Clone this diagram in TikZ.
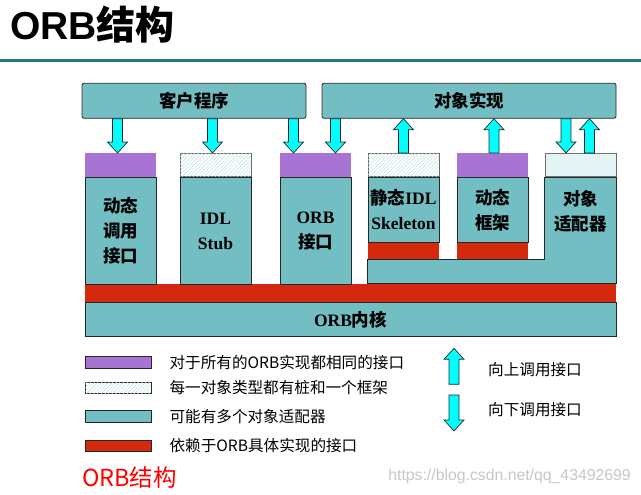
\documentclass[tikz,border=0pt]{standalone}
\usepackage{fontspec}
\setmainfont{Liberation Serif}
\newfontfamily\cjk{Noto Sans CJK SC}
\newfontfamily\arial{Liberation Sans}
\usetikzlibrary{calc}
\usetikzlibrary{patterns.meta}
\definecolor{orbteal}{HTML}{72BEC3}
\definecolor{orbpurple}{HTML}{A874D4}
\definecolor{orbred}{HTML}{D4290C}
\definecolor{orbrule}{HTML}{1E7A87}
\definecolor{orbedge}{HTML}{262626}
\definecolor{orbcyan}{HTML}{00FFFF}
\newcommand{\zh}[1]{{\cjk #1}}

\tikzset{
	box/.style={shape=rectangle,draw=orbedge,line width=0.8pt,fill=orbteal,inner sep=0pt,align=center,
		font=\bfseries\fontsize{17.5}{25}\selectfont},
	boxtext/.style={inner sep=0pt,align=center,font=\bfseries\fontsize{17.5}{25}\selectfont},
	purpletop/.style={shape=rectangle,fill=orbpurple,inner sep=0pt},
	hatchtop/.style={shape=rectangle,draw=orbedge!70,line width=0.6pt,inner sep=0pt,fill=white,
		postaction={pattern={Lines[angle=45,distance=2.6pt,line width=0.5pt]},pattern color=orbteal!45}},
	dottop/.style={shape=rectangle,draw=orbedge!70,line width=0.6pt,inner sep=0pt,fill=orbteal!16,
		postaction={pattern={Dots[distance=2pt,radius=0.35pt]},pattern color=orbteal!45}},
	redbar/.style={shape=rectangle,fill=orbred,inner sep=0pt},
	legend/.style={anchor=west,inner sep=0pt,font=\cjk\fontsize{15.6}{18}\selectfont},
	blockarrow/.style={draw=orbedge,line width=0.7pt,fill=orbcyan,
		to path={let \p1=(\tikztostart),\p2=(\tikztotarget),
			\p3=($(\tikztotarget)!11pt!(\tikztostart)$) in
			(\x1-5pt,\y1) -- (\x1-5pt,\y3) -- (\x1-10pt,\y3) -- (\x2,\y2)
			-- (\x1+10pt,\y3) -- (\x1+5pt,\y3) -- (\x1+5pt,\y1) -- cycle}}
}

\begin{document}
\begin{tikzpicture}[x=1pt,y=-1pt]
	\fill[white] (0,0) rectangle (641,495);
	\useasboundingbox (0,0) rectangle (641,495);

	\draw (10,40) node (title) [anchor=base west,inner sep=0pt,font=\bfseries\fontsize{39}{41}\selectfont] {{\arial ORB}\zh{结构}};
	\draw[orbrule,line width=2.7pt] (0,60.7) -- (641,60.7);

	\draw (194,100.8) node (client) [box,rounded corners=2pt,minimum width=224pt,minimum height=35pt] {\zh{客户程序}};
	\draw (469,100.8) node (impl) [box,rounded corners=2pt,minimum width=294pt,minimum height=35pt] {\zh{对象实现}};

	\draw (350.5,293) node (glue) [redbar,minimum width=531pt,minimum height=18pt] {};
	\draw (glue.south) node (core) [box,anchor=north,minimum width=531pt,minimum height=34pt] {ORB\zh{内核}};

	\draw (120.5,165) node (dii-top) [purpletop,minimum width=71pt,minimum height=23.5pt] {};
	\draw (215.5,165) node (stub-top) [hatchtop,minimum width=71pt,minimum height=23.5pt] {};
	\draw (315.5,165) node (orbif-top) [purpletop,minimum width=71pt,minimum height=23.5pt] {};
	\draw (403.5,165) node (skel-top) [hatchtop,minimum width=71pt,minimum height=23.5pt] {};
	\draw (492.5,165) node (dsi-top) [purpletop,minimum width=71pt,minimum height=23.5pt] {};
	\draw (580.5,165) node (adapter-top) [dottop,minimum width=71pt,minimum height=23.5pt] {};

	\draw (skel-top.south) ++(0,73.75) node (skel-red) [redbar,minimum width=71pt,minimum height=17pt] {};
	\draw (dsi-top.south) ++(0,73.75) node (dsi-red) [redbar,minimum width=71pt,minimum height=17pt] {};

	\draw[box] (skel-red.south west) -- (adapter-top.south west |- skel-red.south) -- (adapter-top.south west)
		-- (adapter-top.south east) -- (adapter-top.south east |- glue.north) -- (skel-red.south west |- glue.north) -- cycle;
	\draw (adapter-top.south) ++(0,34.25) node (adapter) [boxtext] {\zh{对象}\\\zh{适配器}};

	\draw (dii-top.south) node (dii) [box,anchor=north,minimum width=71pt,minimum height=107.25pt] {\zh{动态}\\\zh{调用}\\\zh{接口}};
	\draw (stub-top.south) node (stub) [box,anchor=north,minimum width=71pt,minimum height=107.25pt] {IDL\\Stub};
	\draw (orbif-top.south) node (orbif) [box,anchor=north,minimum width=71pt,minimum height=107.25pt] {ORB\\\zh{接口}};
	\draw (skel-top.south) node (skel) [box,anchor=north,minimum width=71pt,minimum height=65pt] {\zh{静态}IDL\\Skeleton};
	\draw (dsi-top.south) node (dsi) [box,anchor=north,minimum width=71pt,minimum height=65pt] {\zh{动态}\\\zh{框架}};

	\draw[blockarrow] ([xshift=-3pt]dii-top.north |- client.south) to ([xshift=-3pt]dii-top.north);
	\draw[blockarrow] ([xshift=-3pt]stub-top.north |- client.south) to ([xshift=-3pt]stub-top.north);
	\draw[blockarrow] ([xshift=-22pt]orbif-top.north |- client.south) to ([xshift=-22pt]orbif-top.north);
	\draw[blockarrow] ([xshift=20pt]orbif-top.north |- impl.south) to ([xshift=20pt]orbif-top.north);
	\draw[blockarrow] (skel-top.north) to (skel-top.north |- impl.south);
	\draw[blockarrow] ([xshift=1.5pt]dsi-top.north) to ([xshift=1.5pt]dsi-top.north |- impl.south);
	\draw[blockarrow] ([xshift=-14.5pt]adapter-top.north |- impl.south) to ([xshift=-14.5pt]adapter-top.north);
	\draw[blockarrow] ([xshift=9pt]adapter-top.north) to ([xshift=9pt]adapter-top.north |- impl.south);

	\draw (118,362.5) node (key-common) [purpletop,draw=orbedge,line width=0.8pt,minimum width=66pt,minimum height=11.5pt] {};
	\draw (118,388) node (key-typed) [hatchtop,draw=orbedge,line width=0.8pt,minimum width=66pt,minimum height=11.5pt] {};
	\draw (118,416.5) node (key-adapter) [box,minimum width=66pt,minimum height=11.5pt] {};
	\draw (118,446) node (key-vendor) [redbar,draw=orbedge,line width=0.8pt,minimum width=66pt,minimum height=11.5pt] {};
	\draw (key-common.east) ++(18,0) node (txt-common) [legend] {对于所有的ORB实现都相同的接口};
	\draw (key-typed.east) ++(18,0) node (txt-typed) [legend] {每一对象类型都有桩和一个框架};
	\draw (key-adapter.east) ++(18,0) node (txt-adapter) [legend] {可能有多个对象适配器};
	\draw (key-vendor.east) ++(18,0) node (txt-vendor) [legend] {依赖于ORB具体实现的接口};

	\coordinate (up-foot) at (454,384.3);
	\coordinate (up-tip) at (454,348.3);
	\coordinate (down-foot) at (454,395);
	\coordinate (down-tip) at (454,431);
	\draw[blockarrow] (up-foot) to (up-tip);
	\draw[blockarrow] (down-foot) to (down-tip);
	\draw (488,370) node (txt-up) [legend] {向上调用接口};
	\draw (488,410) node (txt-down) [legend] {向下调用接口};

	\draw (82,478) node (caption) [anchor=west,inner sep=0pt,text=red,font=\cjk\fontsize{23.5}{26}\selectfont] {ORB结构};
	\draw (631,476) node (mark) [anchor=east,inner sep=0pt,text=black!22,font=\arial\fontsize{15.8}{18}\selectfont] {https://blog.csdn.net/qq\_43492699};
\end{tikzpicture}
\end{document}
